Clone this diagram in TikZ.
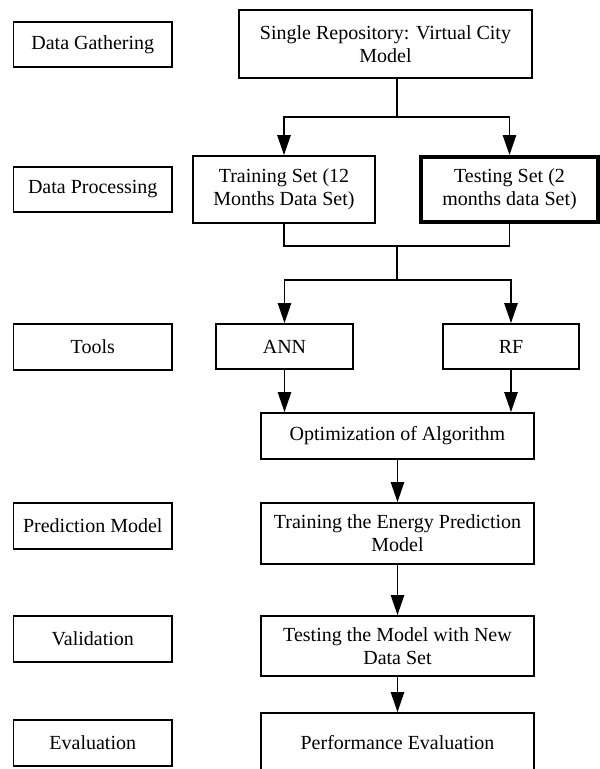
\documentclass[tikz,border=0pt]{standalone}
\usepackage{fontspec}
\setmainfont{Liberation Serif}
\usetikzlibrary{arrows.meta}
\tikzset{
  stagebox/.style={draw, line width=1.4pt, inner sep=0pt, align=center,
    font=\fontsize{15}{17.25}\selectfont},
  sz/.style 2 args={minimum width={#1*0.75pt}, minimum height={#2*0.75pt}},
  conn/.style={line width=1.3pt},
  arr/.style={line width=1.3pt, -{Triangle[length=15pt, width=10pt]}},
}
\begin{document}
\begin{tikzpicture}[x=0.75pt, y=-0.75pt]
\useasboundingbox (0,0) rectangle (600,769);
\clip (0,0) rectangle (600,769);
% left column
\node[stagebox, sz={158.5}{45}] (dg) at (92.75,44.5) {Data Gathering};
\node[stagebox, sz={158.5}{45}] (dp) at (92.75,189.5) {Data Processing};
\node[stagebox, sz={158.5}{46}] (tl) at (92.75,347) {Tools};
\node[stagebox, sz={158.5}{46}] (pm) at (92.75,526) {Prediction Model};
\node[stagebox, sz={158.5}{46}] (va) at (92.75,639) {Validation};
\node[stagebox, sz={158.5}{46}] (ev) at (92.75,743) {Evaluation};
% main flow
\node[stagebox, sz={293}{68}] (top) at (385.5,44) {Single Repository: Virtual City\\Model};
\node[stagebox, sz={182}{67}] (tr) at (284,189.5) {Training Set (12\\Months Data Set)};
\node[stagebox, line width=3pt, sz={177}{65}] (ts) at (509.5,189.5) {Testing Set (2\\months data Set)};
\node[stagebox, sz={137}{45}] (ann) at (284.5,346.5) {ANN};
\node[stagebox, sz={136}{45}] (rf) at (511,346.5) {RF};
\node[stagebox, sz={273}{46}] (opt) at (397.5,436) {Optimization of Algorithm};
\node[stagebox, sz={273}{61}] (te) at (397.5,533.5) {Training the Energy Prediction\\Model};
\node[stagebox, sz={273}{60}] (tm) at (397.5,646) {Testing the Model with New\\Data Set};
\node[stagebox, sz={273}{60}] (pe) at (397.5,743) {Performance Evaluation};
% connectors
\coordinate (s1) at (397,117);
\coordinate (m1) at (397,246);
\coordinate (s2) at (397,280);
\draw[conn] (s1 |- top.south) -- (s1);
\draw[arr] (s1) -| (tr.north);
\draw[arr] (s1) -| (ts.north);
\draw[conn] (tr.south) |- (m1) -| (ts.south);
\draw[conn] (m1) -- (s2);
\draw[arr] (s2) -| (ann.north);
\draw[arr] (s2) -| (rf.north);
\draw[arr] (ann.south) -- (ann.south |- opt.north);
\draw[arr] (rf.south) -- (rf.south |- opt.north);
\draw[arr] (opt.south) -- (te.north);
\draw[arr] (te.south) -- (tm.north);
\draw[arr] (tm.south) -- (pe.north);
\end{tikzpicture}
\end{document}
